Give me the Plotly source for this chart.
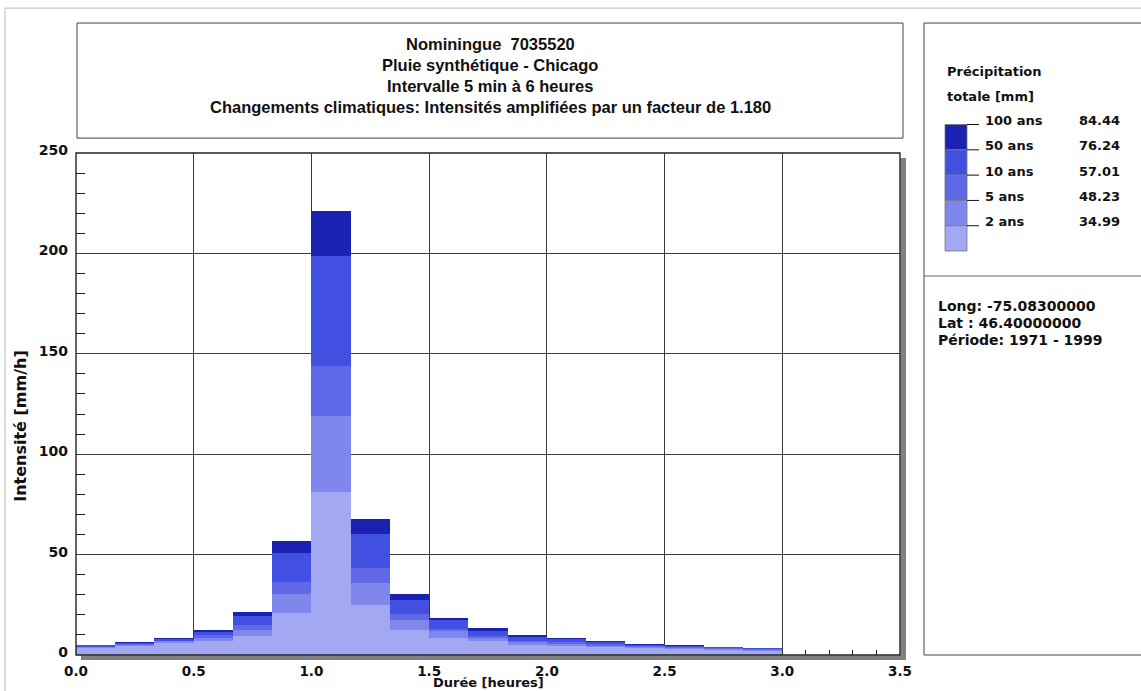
import plotly.graph_objects as go

# Chicago synthetic storm, 10-minute steps over 3 hours
step_h = 1 / 6
n_steps = 18

periods = ["100 ans", "50 ans", "10 ans", "5 ans", "2 ans"]
totals_mm = ["84.44", "76.24", "57.01", "48.23", "34.99"]
colors = ["#1b21b0", "#4150e0", "#5f68e6", "#7f86ec", "#a3a8f2"]

# Intensities [mm/h] for each return period
i_100 = [5.1, 6.3, 8.4, 12.6, 21.3, 56.9, 221.0, 67.6, 30.5, 18.5, 13.2, 9.9, 8.4, 6.8, 5.5, 4.8, 4.2, 3.7]
i_50 = [4.8, 5.9, 7.8, 11.6, 19.3, 50.9, 198.8, 60.5, 27.2, 17.2, 12.2, 9.2, 7.8, 6.3, 5.1, 4.5, 3.9, 3.5]
i_10 = [4.2, 5.4, 7.2, 9.8, 14.7, 36.6, 143.8, 43.5, 20.5, 13.1, 9.4, 7.2, 6.4, 5.3, 4.4, 3.8, 3.3, 2.9]
i_5 = [3.9, 5.1, 6.8, 8.4, 12.4, 30.5, 119.1, 36.1, 17.3, 11.8, 8.3, 6.3, 5.6, 4.7, 4.0, 3.4, 3.0, 2.6]
i_2 = [3.3, 4.5, 6.1, 7.0, 9.4, 21.0, 81.1, 24.8, 12.7, 8.6, 6.8, 5.1, 4.5, 3.8, 3.3, 2.9, 2.5, 2.2]
series = [i_100, i_50, i_10, i_5, i_2]

title_lines = [
    "Nominingue  7035520",
    "Pluie synthétique - Chicago",
    "Intervalle 5 min à 6 heures",
    "Changements climatiques: Intensités amplifiées par un facteur de 1.180",
]
station_lines = ["Long: -75.08300000", "Lat : 46.40000000", "Période: 1971 - 1999"]

W, H = 1141, 691
PL, PR, PT, PB = 76, 900, 153, 659  # plot area in pixels


def px(x):
    return (x - PL) / (PR - PL)


def py(y):
    return (PB - y) / (PB - PT)


mid = [(k + 0.5) * step_h for k in range(n_steps)]

fig = go.Figure()
for name, vals, col in zip(periods, series, colors):
    fig.add_trace(go.Bar(x=mid, y=vals, width=step_h, name=name,
                         marker=dict(color=col, line=dict(width=0)),
                         showlegend=False))

ytick_font = dict(family="DejaVu Sans", size=14, color="#111", weight="bold")
xtick_font = dict(family="DejaVu Sans", size=13.5, color="#111", weight="bold")
grid_col = "#3a3a3a"

fig.update_layout(
    width=W, height=H, autosize=False,
    margin=dict(l=PL, r=W - PR, t=PT, b=H - PB, pad=0),
    paper_bgcolor="white", plot_bgcolor="white",
    barmode="overlay", bargap=0,
    xaxis=dict(range=[0, 3.5], dtick=0.5, tick0=0, tickformat=".1f",
               showgrid=True, gridcolor=grid_col, gridwidth=1,
               zeroline=False, showline=False, ticks="",
               minor=dict(dtick=0.1, ticks="inside", ticklen=5, tickcolor="#222", showgrid=False),
               layer="below traces", tickfont=xtick_font, ticklabelstandoff=6),
    yaxis=dict(range=[0, 250], dtick=50, tick0=0,
               showgrid=True, gridcolor=grid_col, gridwidth=1,
               zeroline=False, showline=False, ticks="",
               minor=dict(dtick=10, ticks="inside", ticklen=9, tickcolor="#222", showgrid=False),
               layer="below traces", tickfont=ytick_font, ticklabelstandoff=7,
               ticklabelshift=-3),
)

shapes = []
# outer light frame
shapes.append(dict(type="rect", xref="paper", yref="paper",
                   x0=px(5), x1=px(1170), y0=py(7), y1=py(720),
                   line=dict(color="#d2d2d2", width=1.5), fillcolor="rgba(0,0,0,0)", layer="below"))
# drop shadow of the plot area
shapes.append(dict(type="rect", xref="paper", yref="paper",
                   x0=px(900.5), x1=px(906), y0=py(158), y1=py(664),
                   line=dict(width=0), fillcolor="#808080", layer="below"))
shapes.append(dict(type="rect", xref="paper", yref="paper",
                   x0=px(81), x1=px(906), y0=py(659.5), y1=py(664),
                   line=dict(width=0), fillcolor="#808080", layer="below"))
# plot frame
shapes.append(dict(type="rect", xref="paper", yref="paper", x0=0, x1=1, y0=0, y1=1,
                   line=dict(color="#222", width=1.4), fillcolor="rgba(0,0,0,0)", layer="above"))
# title box
shapes.append(dict(type="rect", xref="paper", yref="paper",
                   x0=px(77), x1=px(903), y0=py(22), y1=py(138),
                   line=dict(color="#444", width=1), fillcolor="rgba(0,0,0,0)"))
# legend / info box
shapes.append(dict(type="rect", xref="paper", yref="paper",
                   x0=px(924), x1=px(1160), y0=py(22), y1=py(659),
                   line=dict(color="#444", width=1), fillcolor="rgba(0,0,0,0)"))
shapes.append(dict(type="line", xref="paper", yref="paper",
                   x0=px(924), x1=px(1160), y0=py(277), y1=py(277),
                   line=dict(color="#666", width=1)))

annotations = []
title_font = dict(family="Liberation Sans, Arial", size=16.5, color="#111", weight="bold")
for k, line in enumerate(title_lines):
    annotations.append(dict(text=line, xref="paper", yref="paper",
                            x=px(490), y=py(43 + k * 21.3), xanchor="center", yanchor="middle",
                            showarrow=False, font=title_font))

leg_font = dict(family="DejaVu Sans", size=13, color="#111", weight="bold")
annotations.append(dict(text="Précipitation", xref="paper", yref="paper", x=px(945), y=py(70.5),
                        xanchor="left", yanchor="middle", showarrow=False, font=leg_font))
annotations.append(dict(text="totale [mm]", xref="paper", yref="paper", x=px(945), y=py(96.5),
                        xanchor="left", yanchor="middle", showarrow=False, font=leg_font))

box_top, box_h = 124.3, 25.5
for k, (name, tot, col) in enumerate(zip(periods, totals_mm, colors)):
    y0 = box_top + k * box_h
    shapes.append(dict(type="rect", xref="paper", yref="paper",
                       x0=px(945), x1=px(967), y0=py(y0), y1=py(y0 + box_h),
                       line=dict(color="#777", width=0.8), fillcolor=col))
    shapes.append(dict(type="line", xref="paper", yref="paper",
                       x0=px(967), x1=px(979), y0=py(y0), y1=py(y0),
                       line=dict(color="#111", width=1)))
    annotations.append(dict(text=name, xref="paper", yref="paper", x=px(983), y=py(y0 - 4),
                            xanchor="left", yanchor="middle", showarrow=False, font=leg_font))
    annotations.append(dict(text=tot, xref="paper", yref="paper", x=px(1077), y=py(y0 - 4),
                            xanchor="left", yanchor="middle", showarrow=False, font=leg_font))

info_font = dict(family="DejaVu Sans", size=14, color="#111", weight="bold")
for k, line in enumerate(station_lines):
    annotations.append(dict(text=line, xref="paper", yref="paper", x=px(936), y=py(307.5 + k * 17),
                            xanchor="left", yanchor="middle", showarrow=False, font=info_font))

annotations.append(dict(text="Durée [heures]", xref="paper", yref="paper", x=0.5, y=py(686.5),
                        xanchor="center", yanchor="middle", showarrow=False,
                        font=dict(family="DejaVu Sans", size=13, color="#111", weight="bold")))
annotations.append(dict(text="Intensité [mm/h]", xref="paper", yref="paper", x=px(21), y=py(428),
                        xanchor="center", yanchor="middle", textangle=-90, showarrow=False,
                        font=dict(family="DejaVu Sans", size=16, color="#111", weight="bold")))

fig.update_layout(shapes=shapes, annotations=annotations)
fig.write_html("out.html")
